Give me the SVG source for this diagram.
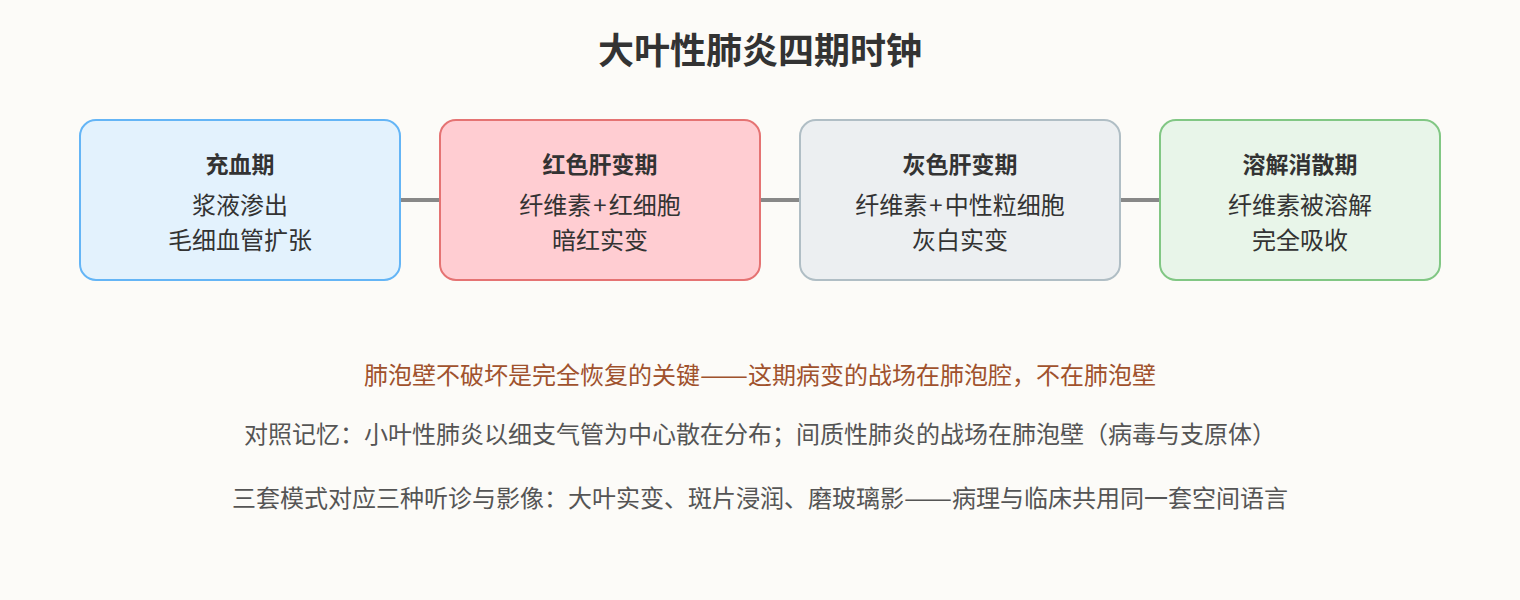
<svg xmlns="http://www.w3.org/2000/svg" width="1520" height="600" viewBox="0 0 1520 600">
<style>
text{font-family:"Noto Sans CJK SC","Noto Sans",sans-serif;text-anchor:middle;dominant-baseline:central}
.title{font-size:36px;font-weight:bold;fill:#333}
.nt{font-size:23px;font-weight:bold;fill:#333}
.nb{font-size:24px;fill:#333}
.box{stroke-width:2}
.conn{stroke:#888;stroke-width:4}
.note{font-size:24px;fill:#555}
.key{font-size:24px;fill:#A0522D}
</style>
<rect width="1520" height="600" fill="#FCFBF8"/>
<text class="title" x="760" y="48">大叶性肺炎四期时钟</text>
<g id="connectors">
<line class="conn" x1="400" y1="200" x2="440" y2="200"/>
<line class="conn" x1="760" y1="200" x2="800" y2="200"/>
<line class="conn" x1="1120" y1="200" x2="1160" y2="200"/>
</g>
<g id="node1">
<rect class="box" x="80" y="120" width="320" height="160" rx="16" fill="#E3F2FD" stroke="#64B5F6"/>
<text class="nt" x="240" y="163">充血期</text>
<text class="nb" x="240" y="203">浆液渗出</text>
<text class="nb" x="240" y="238">毛细血管扩张</text>
</g>
<g id="node2">
<rect class="box" x="440" y="120" width="320" height="160" rx="16" fill="#FFCDD2" stroke="#E57373"/>
<text class="nt" x="600" y="163">红色肝变期</text>
<text class="nb" x="600" y="203">纤维素<tspan dx="2">+</tspan><tspan dx="2">红细胞</tspan></text>
<text class="nb" x="600" y="238">暗红实变</text>
</g>
<g id="node3">
<rect class="box" x="800" y="120" width="320" height="160" rx="16" fill="#ECEFF1" stroke="#B0BEC5"/>
<text class="nt" x="960" y="163">灰色肝变期</text>
<text class="nb" x="960" y="203">纤维素<tspan dx="2">+</tspan><tspan dx="2">中性粒细胞</tspan></text>
<text class="nb" x="960" y="238">灰白实变</text>
</g>
<g id="node4">
<rect class="box" x="1160" y="120" width="280" height="160" rx="16" fill="#E8F5E9" stroke="#81C784"/>
<text class="nt" x="1300" y="163">溶解消散期</text>
<text class="nb" x="1300" y="203">纤维素被溶解</text>
<text class="nb" x="1300" y="238">完全吸收</text>
</g>
<text class="key" x="760" y="373">肺泡壁不破坏是完全恢复的关键<tspan textLength="48" lengthAdjust="spacingAndGlyphs">——</tspan>这期病变的战场在肺泡腔，不在肺泡壁</text>
<text class="note" x="760" y="432">对照记忆：小叶性肺炎以细支气管为中心散在分布；间质性肺炎的战场在肺泡壁（病毒与支原体）</text>
<text class="note" x="760" y="496">三套模式对应三种听诊与影像：大叶实变、斑片浸润、磨玻璃影<tspan textLength="48" lengthAdjust="spacingAndGlyphs">——</tspan>病理与临床共用同一套空间语言</text>
</svg>
